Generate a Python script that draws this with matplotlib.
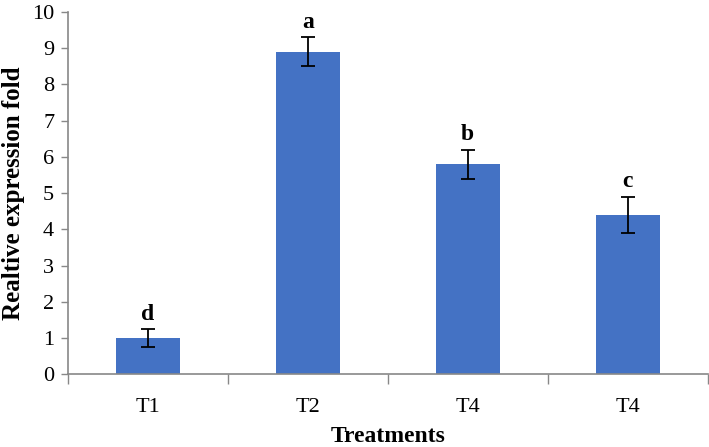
import numpy as np
import matplotlib
matplotlib.use("Agg")
import matplotlib.pyplot as plt

plt.rcParams["font.family"] = ["Liberation Serif", "DejaVu Serif"]

# ── Data ──
treatments = ["T1", "T2", "T4", "T4"]
expression = [1.0, 8.9, 5.8, 4.4]
errors = [0.25, 0.4, 0.4, 0.5]
letters = ["d", "a", "b", "c"]

fig = plt.figure(figsize=(7.09, 4.47), dpi=100)
ax = fig.add_axes([0.096, 0.163, 0.902, 0.81])

x = np.arange(len(treatments))
ax.bar(x, expression, width=0.4, color="#4472C4", zorder=2)
ax.errorbar(x, expression, yerr=errors, fmt="none", ecolor="black",
            elinewidth=1.3, capsize=5, capthick=1.3, zorder=3)

for xi, v, e, lab in zip(x, expression, errors, letters):
    ax.text(xi, v + e + 0.12, lab, ha="center", va="bottom",
            fontsize=17, fontweight="bold")

ax.set_xlim(-0.5, len(treatments) - 0.5)
ax.set_ylim(0, 10)
ax.set_yticks(range(0, 11))
ax.set_xticks(x)
ax.set_xticklabels(treatments)
ax.set_xticks(np.arange(-0.5, len(treatments)), minor=True)
ax.tick_params(axis="x", which="major", length=0, pad=17, labelsize=16)
ax.tick_params(axis="x", which="minor", length=7, color="#888888", width=1)
ax.tick_params(axis="y", length=5, color="#888888", width=1, labelsize=16, pad=5)

for s in ["top", "right"]:
    ax.spines[s].set_visible(False)
for s in ["left", "bottom"]:
    ax.spines[s].set_color("#888888")
    ax.spines[s].set_linewidth(1.2)

ax.set_xlabel("Treatments", fontsize=17, fontweight="bold", labelpad=7)
ax.set_ylabel("Realtive expression fold", fontsize=18, fontweight="bold", labelpad=5)

plt.savefig("out.png", dpi=100)
plt.close()
